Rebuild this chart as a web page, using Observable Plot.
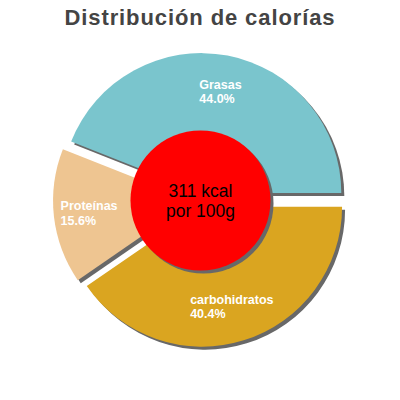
<!DOCTYPE html>
<html><head><meta charset="utf-8">
<script src="https://cdn.jsdelivr.net/npm/d3@7"></script>
<script src="https://cdn.jsdelivr.net/npm/@observablehq/plot@0.6"></script>
<style>
body{margin:0;background:#fff;}
#title{margin:0;font:bold 22px "Liberation Sans",Arial,sans-serif;color:#444;text-align:center;line-height:36px;height:35px;letter-spacing:0.9px;}
</style></head><body>
<h2 id="title"></h2>
<div id="chart"></div>
<script>
// ---- data ----
const titleText = "Distribución de calorías";
const categories = ["Grasas", "Proteínas", "carbohidratos"];
const percents = [44.0, 15.6, 40.4];
const colors = ["#7AC5CD", "#EEC591", "#DAA520"];
const centerLines = ["311 kcal", "por 100g"];

// ---- geometry / style ----
const FONT = "Liberation Sans, Arial, sans-serif";
const R = 140, EXPLODE = 7, LABEL_R = 104, HOLE_R = 70;
const SHADOW = "#686868", SH = 3;
const W = 400, H = 365, CY = 165;

document.getElementById("title").textContent = titleText;

const pie = d3.pie().sort(null).value(d => d)
  .startAngle(Math.PI / 2).endAngle(Math.PI / 2 - 2 * Math.PI);
const arcs = pie(percents);

const ctx = document.createElement("canvas").getContext("2d");
ctx.font = "bold 13px " + FONT;

const labels = arcs.map((a, i) => {
  const m = (a.startAngle + a.endAngle) / 2;
  const ox = EXPLODE * Math.sin(m), oy = -EXPLODE * Math.cos(m);
  const lx = ox + LABEL_R * Math.sin(m), ly = oy - LABEL_R * Math.cos(m);
  const w = ctx.measureText(categories[i]).width;
  return {x: lx - w / 2, y: ly, text: categories[i] + "\n" + percents[i].toFixed(1) + "%"};
});

function slices(index, scales) {
  const sx = scales.x, sy = scales.y;
  const k = sx(1) - sx(0);
  const cx = sx(0), cy = sy(0);
  const arc = d3.arc().innerRadius(0).outerRadius(R * k);
  const g = d3.create("svg:g");
  for (const layer of ["shadow", "slice"]) {
    arcs.forEach((a, i) => {
      const m = (a.startAngle + a.endAngle) / 2;
      const ox = EXPLODE * k * Math.sin(m), oy = -EXPLODE * k * Math.cos(m);
      const s = layer === "shadow" ? SH : 0;
      g.append("path")
        .attr("d", arc(a))
        .attr("transform", `translate(${cx + ox + s},${cy + oy + s})`)
        .attr("fill", layer === "shadow" ? SHADOW : colors[i]);
    });
  }
  return g.node();
}

const chart = Plot.plot({
  width: W, height: H, margin: 0,
  style: {fontFamily: FONT, background: "white"},
  x: {domain: [-200, 200], range: [0, W], axis: null},
  y: {domain: [-CY, H - CY], range: [0, H], axis: null},
  marks: [
    slices,
    Plot.dot([0], {x: () => 0, y: () => 0, r: HOLE_R, fill: SHADOW, stroke: null, dx: SH, dy: SH}),
    Plot.dot([0], {x: () => 0, y: () => 0, r: HOLE_R, fill: "#FF0000", stroke: null}),
    Plot.text([centerLines.join("\n")], {x: () => 0, y: () => 0, text: d => d, fontSize: 17.5, lineHeight: 1.13, fill: "black", lineAnchor: "middle"}),
    Plot.text(labels, {x: "x", y: "y", text: "text", textAnchor: "start", lineAnchor: "middle", lineHeight: 1.13, fontSize: 12.5, fontWeight: "bold", fill: "white"})
  ]
});
document.getElementById("chart").appendChild(chart);
</script>
</body></html>
